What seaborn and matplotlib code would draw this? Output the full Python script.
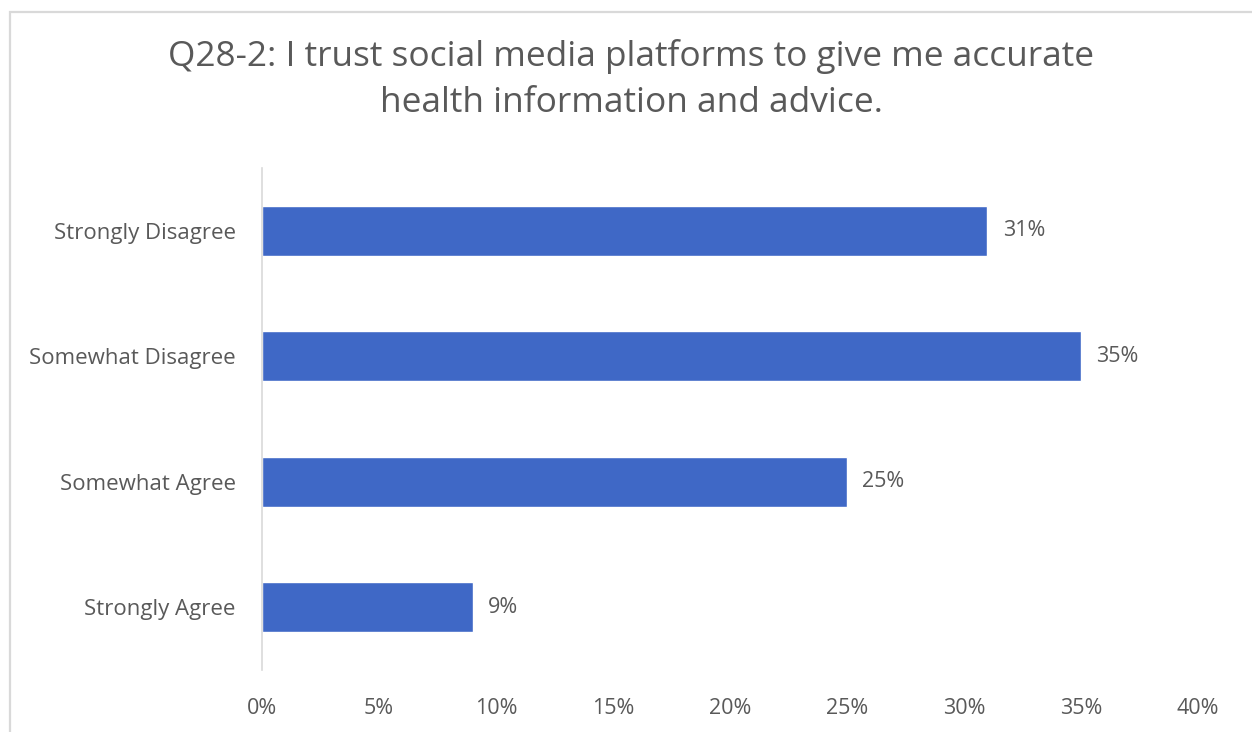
import matplotlib
matplotlib.use("Agg")
import matplotlib.pyplot as plt
from matplotlib.patches import Rectangle
import seaborn as sns
import pandas as pd

categories = ["Strongly Disagree", "Somewhat Disagree", "Somewhat Agree", "Strongly Agree"]
values = [31, 35, 25, 9]
x_ticks = [0, 5, 10, 15, 20, 25, 30, 35, 40]
title_lines = ["Q28-2: I trust social media platforms to give me accurate",
               "health information and advice."]

BAR_COLOR = "#3F68C6"
TEXT_COLOR = "#595959"
AXIS_COLOR = "#D9D9D9"

sns.set_theme(style="white")
plt.rcParams["font.family"] = ["Open Sans", "DejaVu Sans"]

df = pd.DataFrame({"category": categories, "value": values})

W, H = 1252, 732
fig = plt.figure(figsize=(W / 100, H / 100), dpi=100)
fig.patch.set_facecolor("white")

# chart-area frame
fig.add_artist(Rectangle((10 / W, -0.05), 1.1, 1 - 12 / H + 0.05,
                         transform=fig.transFigure, fill=False,
                         edgecolor=AXIS_COLOR, linewidth=1.6))

ax = fig.add_axes([262 / W, 1 - 670 / H, (1198 - 262) / W, (670 - 168) / H])
sns.barplot(data=df, y="category", x="value", order=categories,
            color=BAR_COLOR, width=0.4, saturation=1, ax=ax, orient="h")

for c in ax.containers:
    ax.bar_label(c, labels=[f"{v}%" for v in values], padding=11,
                 fontsize=15.5, color=TEXT_COLOR)

ax.set_xlim(0, 40)
ax.set_xticks(x_ticks)
ax.set_xticklabels([f"{t}%" for t in x_ticks], fontsize=15.5, color=TEXT_COLOR)
ax.tick_params(axis="x", length=0, pad=20)
ax.tick_params(axis="y", length=0, pad=19, labelsize=16, labelcolor=TEXT_COLOR)
ax.set_xlabel("")
ax.set_ylabel("")
for s in ["top", "right", "bottom"]:
    ax.spines[s].set_visible(False)
ax.spines["left"].set_color(AXIS_COLOR)
ax.spines["left"].set_linewidth(1.2)
ax.grid(False)

fig.text(631 / W, 1 - 57 / H, title_lines[0], ha="center", va="center",
         fontsize=25.4, color=TEXT_COLOR)
fig.text(631 / W, 1 - 103 / H, title_lines[1], ha="center", va="center",
         fontsize=25.4, color=TEXT_COLOR)

fig.savefig("out.png", dpi=100)
